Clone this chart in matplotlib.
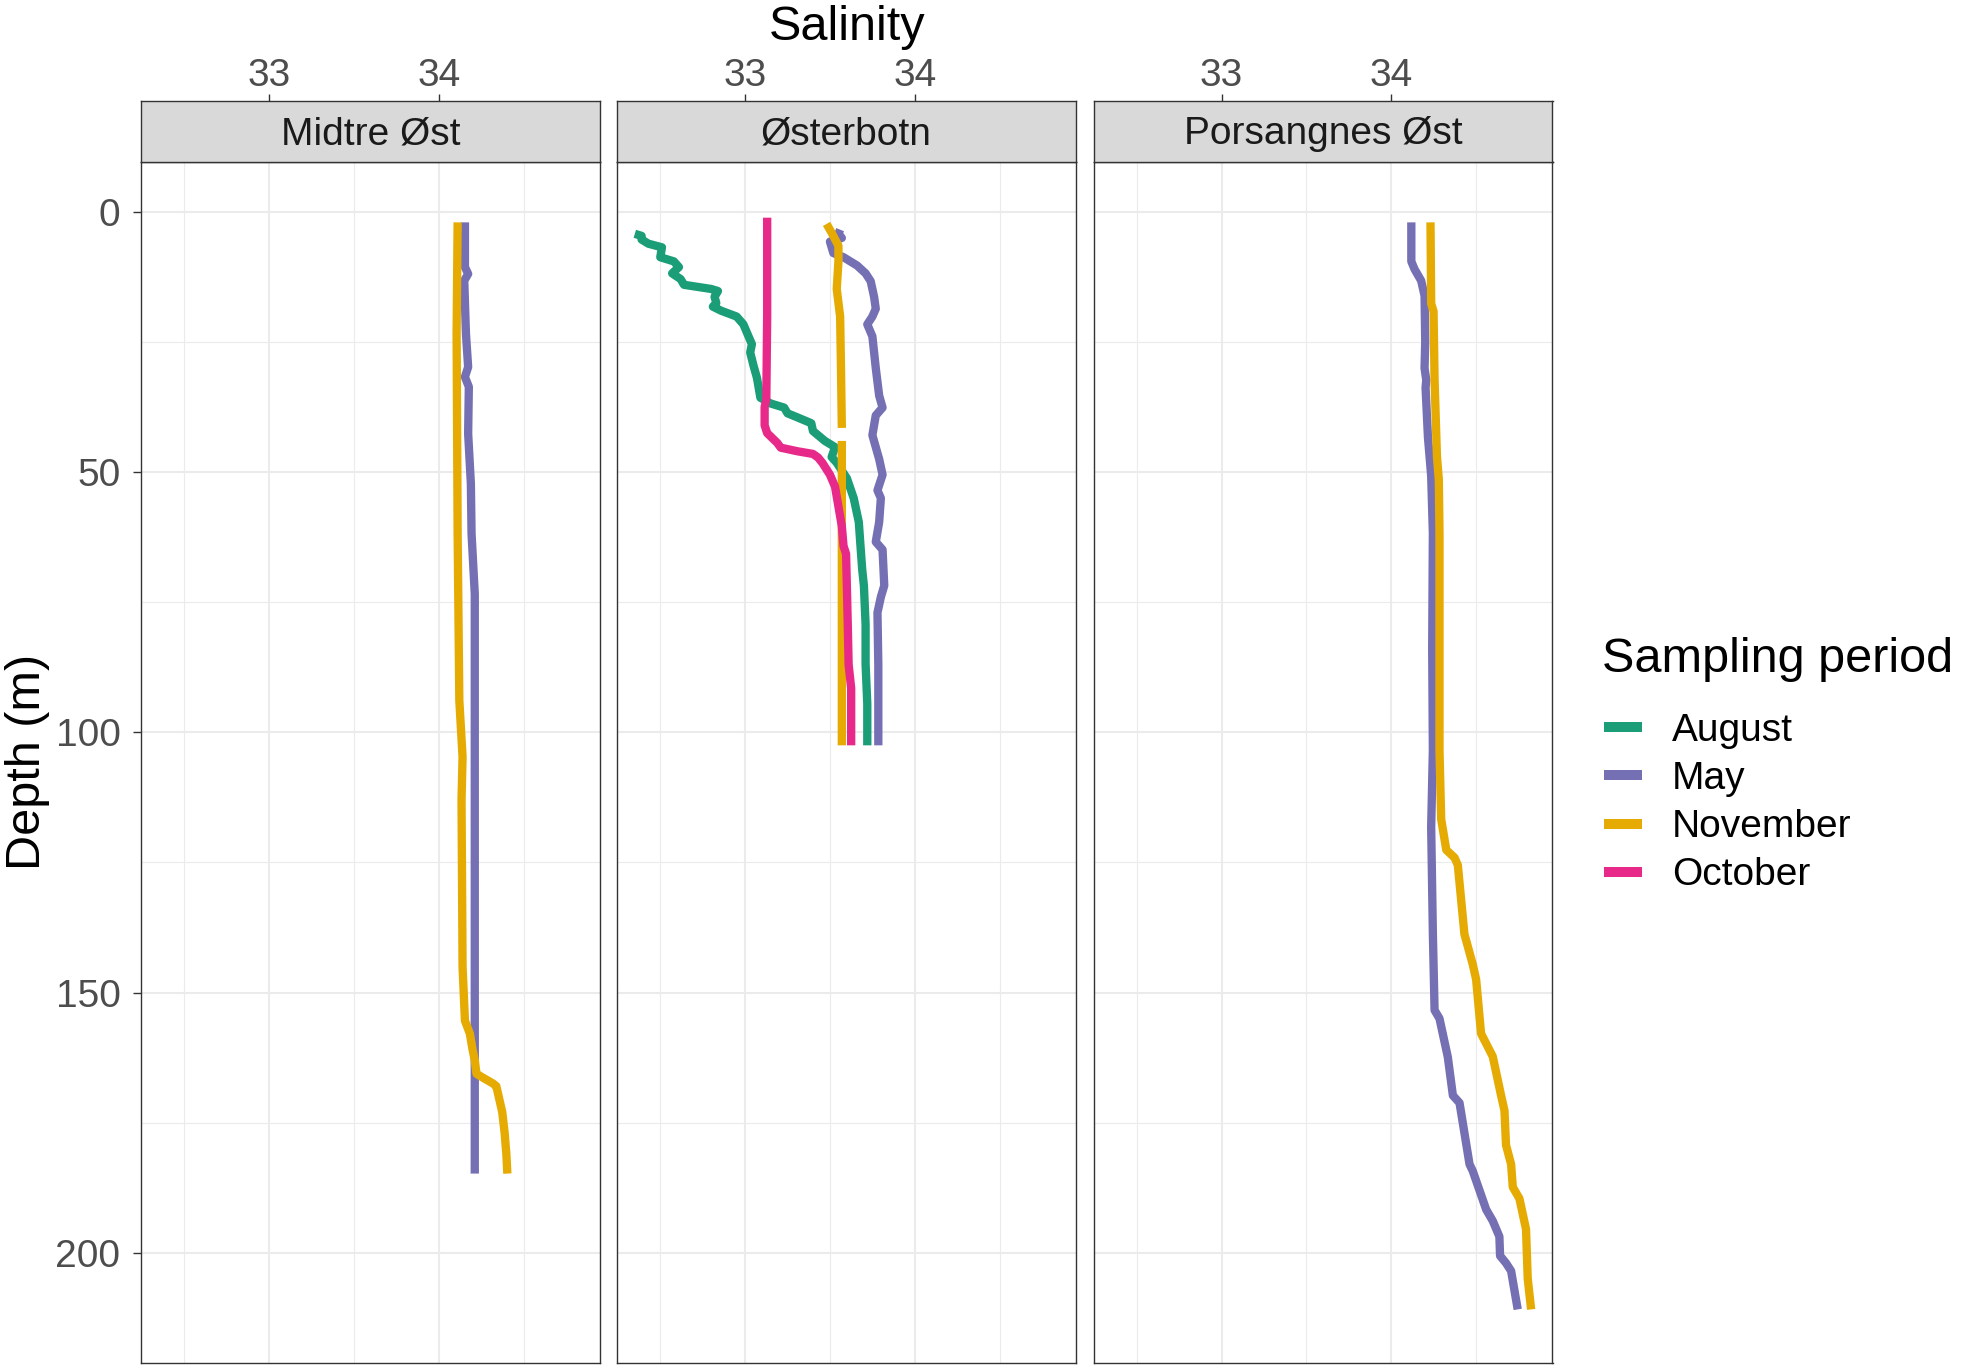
import matplotlib
matplotlib.use("Agg")
import matplotlib.pyplot as plt
from matplotlib.lines import Line2D
import numpy as np

plt.rcParams['font.family'] = ['Liberation Sans', 'DejaVu Sans']

# ---- data (depth in m, salinity) ----
stations = ["Midtre Øst", "Østerbotn", "Porsangnes Øst"]
periods = ["August", "May", "November", "October"]
colors = {"August": "#1B9E77", "May": "#7570B3", "November": "#E6AB02", "October": "#E7298A"}

# Midtre Øst
midtre_may_depth = [2.0, 10.6, 11.9, 13.2, 23.4, 29.8, 31.7, 33.6, 42.6, 52.2, 61.8, 73.4, 93.9, 120, 150, 184.8]
midtre_may_sal = [34.154, 34.154, 34.173, 34.150, 34.160, 34.173, 34.154, 34.177, 34.173, 34.189, 34.193, 34.212, 34.212, 34.212, 34.212, 34.212]
midtre_nov_depth = [2.0, 23.4, 61.8, 93.9, 104.7, 113, 145, 155.4, 157.9, 161, 163, 165.6, 166.2, 167.5, 168, 173, 177, 181, 184.8]
midtre_nov_sal = [34.111, 34.105, 34.111, 34.121, 34.140, 34.134, 34.140, 34.154, 34.183, 34.199, 34.212, 34.222, 34.251, 34.320, 34.339, 34.374, 34.388, 34.398, 34.404]

# Østerbotn
oster_aug_depth = [4.2, 4.6, 5.3, 6.1, 6.8, 8.7, 9.5, 10.6, 11.8, 12.9, 14.0, 14.8, 15.2, 16.3, 17.5, 18.2,
                   19.0, 20.1, 21.6, 23.9, 25.4, 27.0, 29.6, 31.9, 33.8, 35.7, 36.8, 37.6, 38.7, 39.5, 40.6,
                   42.1, 44.0, 45.2, 47.1, 48.2, 51.2, 55.0, 59.6, 64.2, 68.7, 71.8, 79.3, 86.9, 94.5, 102.5]
oster_aug_sal = [32.35, 32.39, 32.39, 32.43, 32.51, 32.50, 32.58, 32.61, 32.57, 32.62, 32.64, 32.80, 32.84, 32.82, 32.83, 32.81,
                 32.86, 32.95, 32.99, 33.02, 33.04, 33.03, 33.05, 33.07, 33.08, 33.09, 33.15, 33.23, 33.25, 33.31, 33.39,
                 33.40, 33.47, 33.53, 33.51, 33.54, 33.60, 33.64, 33.67, 33.68, 33.69, 33.70, 33.71, 33.71, 33.72, 33.72]
oster_may_depth = [3.4, 4.2, 5.0, 5.7, 7.9, 8.7, 10.3, 11.8, 13.3, 16.3, 18.6, 20.1, 21.6, 23.9, 30, 35.3, 37.6,
                   39.1, 42.9, 47.5, 50.5, 53.5, 55, 59.6, 63.4, 64.9, 71.8, 74, 77, 87, 102.5]
oster_may_sal = [33.56, 33.55, 33.57, 33.50, 33.52, 33.58, 33.66, 33.71, 33.74, 33.76, 33.77, 33.75, 33.72, 33.75, 33.77, 33.79, 33.81,
                 33.77, 33.75, 33.79, 33.81, 33.78, 33.80, 33.79, 33.77, 33.81, 33.82, 33.80, 33.78, 33.785, 33.785]
oster_nov_depth = [2.3, 4.0, 6.5, 9.5, 14.8, 20.1, 30, 41.5, 42.5, 44.0, 60, 102.5]
oster_nov_sal = [33.48, 33.51, 33.55, 33.55, 33.54, 33.56, 33.565, 33.57, np.nan, 33.57, 33.57, 33.57]
oster_oct_depth = [1.1, 20, 36, 37.5, 41, 42.5, 44.4, 45.3, 46, 46.5, 47.2, 48.2, 50.5, 52.8, 56.6, 60.4, 64.2,
                   65.7, 79.3, 87, 91.5, 102.5]
oster_oct_sal = [33.13, 33.13, 33.125, 33.115, 33.115, 33.13, 33.19, 33.21, 33.31, 33.40, 33.43, 33.455, 33.50, 33.53, 33.55, 33.57, 33.58,
                 33.595, 33.605, 33.61, 33.625, 33.625]

# Porsangnes Øst
pors_may_depth = [2.0, 9.5, 11.0, 13.2, 16.1, 25, 30, 32.3, 33.8, 43.3, 50.7, 61.7, 83.8, 103.5, 118.2, 138.7, 153.4,
                  155, 162.4, 169.8, 171.2, 177, 183, 184.3, 191.7, 193.9, 196.9, 200.6, 202, 203.5, 210.9]
pors_may_sal = [34.118, 34.118, 34.137, 34.176, 34.196, 34.200, 34.196, 34.206, 34.202, 34.216, 34.235, 34.245, 34.241, 34.245, 34.235, 34.245, 34.255,
                34.284, 34.333, 34.363, 34.402, 34.431, 34.461, 34.480, 34.559, 34.598, 34.637, 34.641, 34.676, 34.706, 34.745]
pors_nov_depth = [2.0, 17.6, 19.1, 32.3, 47, 51.4, 61.7, 103.5, 116.7, 122.6, 124.1, 125.5, 138.8, 144.6, 147.5,
                  157.9, 162.3, 169.8, 172.7, 179.3, 183, 187.4, 189.6, 195.5, 205, 210.9]
pors_nov_sal = [34.231, 34.235, 34.249, 34.255, 34.269, 34.280, 34.284, 34.284, 34.294, 34.324, 34.373, 34.392, 34.431, 34.480, 34.500,
                34.529, 34.598, 34.647, 34.667, 34.676, 34.706, 34.716, 34.755, 34.794, 34.804, 34.824]

profiles = {
    "Midtre Øst": {"May": (midtre_may_depth, midtre_may_sal),
                   "November": (midtre_nov_depth, midtre_nov_sal)},
    "Østerbotn": {"August": (oster_aug_depth, oster_aug_sal),
                  "May": (oster_may_depth, oster_may_sal),
                  "November": (oster_nov_depth, oster_nov_sal),
                  "October": (oster_oct_depth, oster_oct_sal)},
    "Porsangnes Øst": {"May": (pors_may_depth, pors_may_sal),
                       "November": (pors_nov_depth, pors_nov_sal)},
}

x_ticks = [33, 34]
x_minor = [32.5, 33.5, 34.5]
y_ticks = [0, 50, 100, 150, 200]
y_minor = [25, 75, 125, 175]

# ---- layout (pixel based, 1964 x 1372) ----
W, H = 1964, 1372
fig = plt.figure(figsize=(W / 100, H / 100), dpi=100)

panel_lefts = [141, 617, 1093.5]
panel_w = 459
panel_top, panel_bot = 162, 1363
strip_top = 100.7

border = "#333333"
grid = "#EBEBEB"
tick_col = "#4D4D4D"

for i, st in enumerate(stations):
    left = panel_lefts[i] / W
    ax = fig.add_axes([left, 1 - panel_bot / H, panel_w / W, (panel_bot - panel_top) / H])
    ax.set_xlim(32.245, 34.95)
    ax.set_ylim(221.2, -9.6)
    for v in x_ticks:
        ax.axvline(v, color=grid, lw=1.5, zorder=0)
    for v in x_minor:
        ax.axvline(v, color=grid, lw=0.8, zorder=0)
    for v in y_ticks:
        ax.axhline(v, color=grid, lw=1.5, zorder=0)
    for v in y_minor:
        ax.axhline(v, color=grid, lw=0.8, zorder=0)

    for p in periods:
        if p in profiles[st]:
            d, s = profiles[st][p]
            ax.plot(s, d, color=colors[p], lw=6.0, solid_capstyle='butt', solid_joinstyle='round')

    ax.set_xticks([])
    if i == 0:
        ax.set_yticks(y_ticks)
        ax.tick_params(axis='y', length=5.8, width=1.0, color=border, pad=9,
                       labelsize=28, labelcolor=tick_col)
    else:
        ax.set_yticks([])
    for sp in ax.spines.values():
        sp.set_color(border)
        sp.set_linewidth(1.0)

    # facet strip with top axis ticks
    sax = fig.add_axes([left, 1 - panel_top / H, panel_w / W, (panel_top - strip_top) / H])
    sax.set_facecolor("#D9D9D9")
    sax.set_xlim(32.245, 34.95)
    sax.set_ylim(0, 1)
    sax.set_yticks([])
    sax.xaxis.tick_top()
    sax.set_xticks(x_ticks)
    sax.set_xticklabels([str(t) for t in x_ticks])
    sax.tick_params(axis='x', length=5.0, width=1.0, color=border, pad=0,
                    labelsize=28, labelcolor=tick_col)
    for sp in sax.spines.values():
        sp.set_color(border)
        sp.set_linewidth(1.0)
    sax.text(0.5, 0.45, st, transform=sax.transAxes, ha='center', va='center',
             fontsize=28, color="#1A1A1A")

fig.text(846.7 / W, 1 - 40 / H, "Salinity", ha='center', va='baseline', fontsize=35)
fig.text(28 / W, 1 - 762 / H, "Depth (m)", ha='center', va='center', rotation=90, fontsize=35)

# legend: title as separate text, entries via fig.legend
fig.text(1601.7 / W, 1 - 671.7 / H, "Sampling period", ha='left', va='baseline', fontsize=35)
handles = [Line2D([0], [0], color=colors[p], lw=7.2, solid_capstyle='butt') for p in periods]
fig.legend(handles, periods, loc='upper left',
           bbox_to_anchor=(1604 / W, 1 - 713 / H), frameon=False,
           fontsize=28, handlelength=0.98, handletextpad=0.77,
           labelspacing=0.31, borderaxespad=0, borderpad=0)

fig.savefig("out.png", dpi=100)
